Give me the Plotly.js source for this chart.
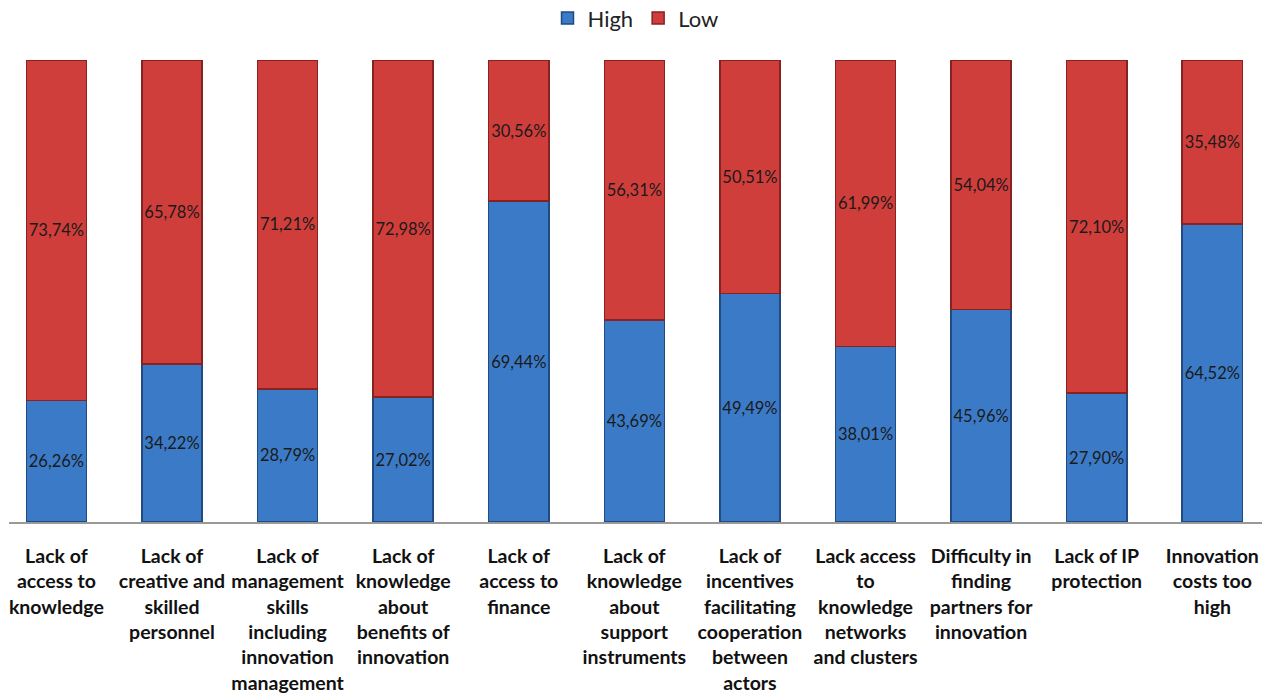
<!DOCTYPE html>
<html>
<head>
<meta charset="utf-8">
<script src="https://cdn.plot.ly/plotly-3.0.1.min.js"></script>
<style>html,body{margin:0;padding:0;background:#fff;}#chart{width:1274px;height:700px;}</style>
</head>
<body>
<div id="chart"></div>
<script>
const categories = [
  "Lack of<br>access to<br>knowledge",
  "Lack of<br>creative and<br>skilled<br>personnel",
  "Lack of<br>management<br>skills<br>including<br>innovation<br>management",
  "Lack of<br>knowledge<br>about<br>benefits of<br>innovation",
  "Lack of<br>access to<br>finance",
  "Lack of<br>knowledge<br>about<br>support<br>instruments",
  "Lack of<br>incentives<br>facilitating<br>cooperation<br>between<br>actors",
  "Lack access<br>to<br>knowledge<br>networks<br>and clusters",
  "Difficulty in<br>finding<br>partners for<br>innovation",
  "Lack of IP<br>protection",
  "Innovation<br>costs too<br>high"
];
const highValues = [26.26, 34.22, 28.79, 27.02, 69.44, 43.69, 49.49, 38.01, 45.96, 27.90, 64.52];
const lowValues  = [73.74, 65.78, 71.21, 72.98, 30.56, 56.31, 50.51, 61.99, 54.04, 72.10, 35.48];
const seriesNames = ["High", "Low"];

const fmt = v => v.toFixed(2).replace('.', ',') + '%';
const idx = categories.map((c, i) => i);

const labelFont = {family: "Lato, 'Open Sans', sans-serif", size: 16.5, color: "#1a1a1a"};

const traces = [
  {
    type: 'bar', name: seriesNames[0], x: idx, y: highValues,
    text: highValues.map(fmt), textposition: 'inside', insidetextanchor: 'middle', textangle: 0,
    textfont: labelFont, hoverinfo: 'skip', constraintext: 'none',
    marker: {color: '#3B7AC6', line: {color: '#1f4a82', width: 1.5}}
  },
  {
    type: 'bar', name: seriesNames[1], x: idx, y: lowValues,
    text: lowValues.map(fmt), textposition: 'inside', insidetextanchor: 'middle', textangle: 0,
    textfont: labelFont, hoverinfo: 'skip', constraintext: 'none',
    marker: {color: '#D03E3B', line: {color: '#862320', width: 1.5}}
  }
];

const layout = {
  width: 1274, height: 700,
  barmode: 'stack', bargap: 0.48,
  margin: {l: 9, r: 12, t: 60, b: 178},
  paper_bgcolor: '#fff', plot_bgcolor: '#fff',
  font: {family: "Lato, 'Open Sans', sans-serif", color: '#1a1a1a'},
  uniformtext: {mode: false},
  showlegend: true,
  legend: {orientation: 'h', traceorder: 'normal', x: 0.5, xanchor: 'center', y: 0.974, yanchor: 'middle', yref: 'container',
           font: {size: 22, color: '#222'}, itemwidth: 30, tracegroupgap: 0},
  xaxis: {
    tickmode: 'array', tickvals: idx, ticktext: categories, tickangle: 0,
    range: [-0.41, 10.43], showline: true, linecolor: '#999', linewidth: 1.5,
    ticks: '', showgrid: false, zeroline: false, ticklabelstandoff: 16,
    tickfont: {family: "Lato, 'Open Sans', sans-serif", size: 19.5, color: '#111', weight: 'bold'}
  },
  yaxis: {range: [0, 100], showticklabels: false, showgrid: false, zeroline: false, showline: false, ticks: ''}
};

Plotly.newPlot('chart', traces, layout, {displayModeBar: false, staticPlot: true});
</script>
</body>
</html>
